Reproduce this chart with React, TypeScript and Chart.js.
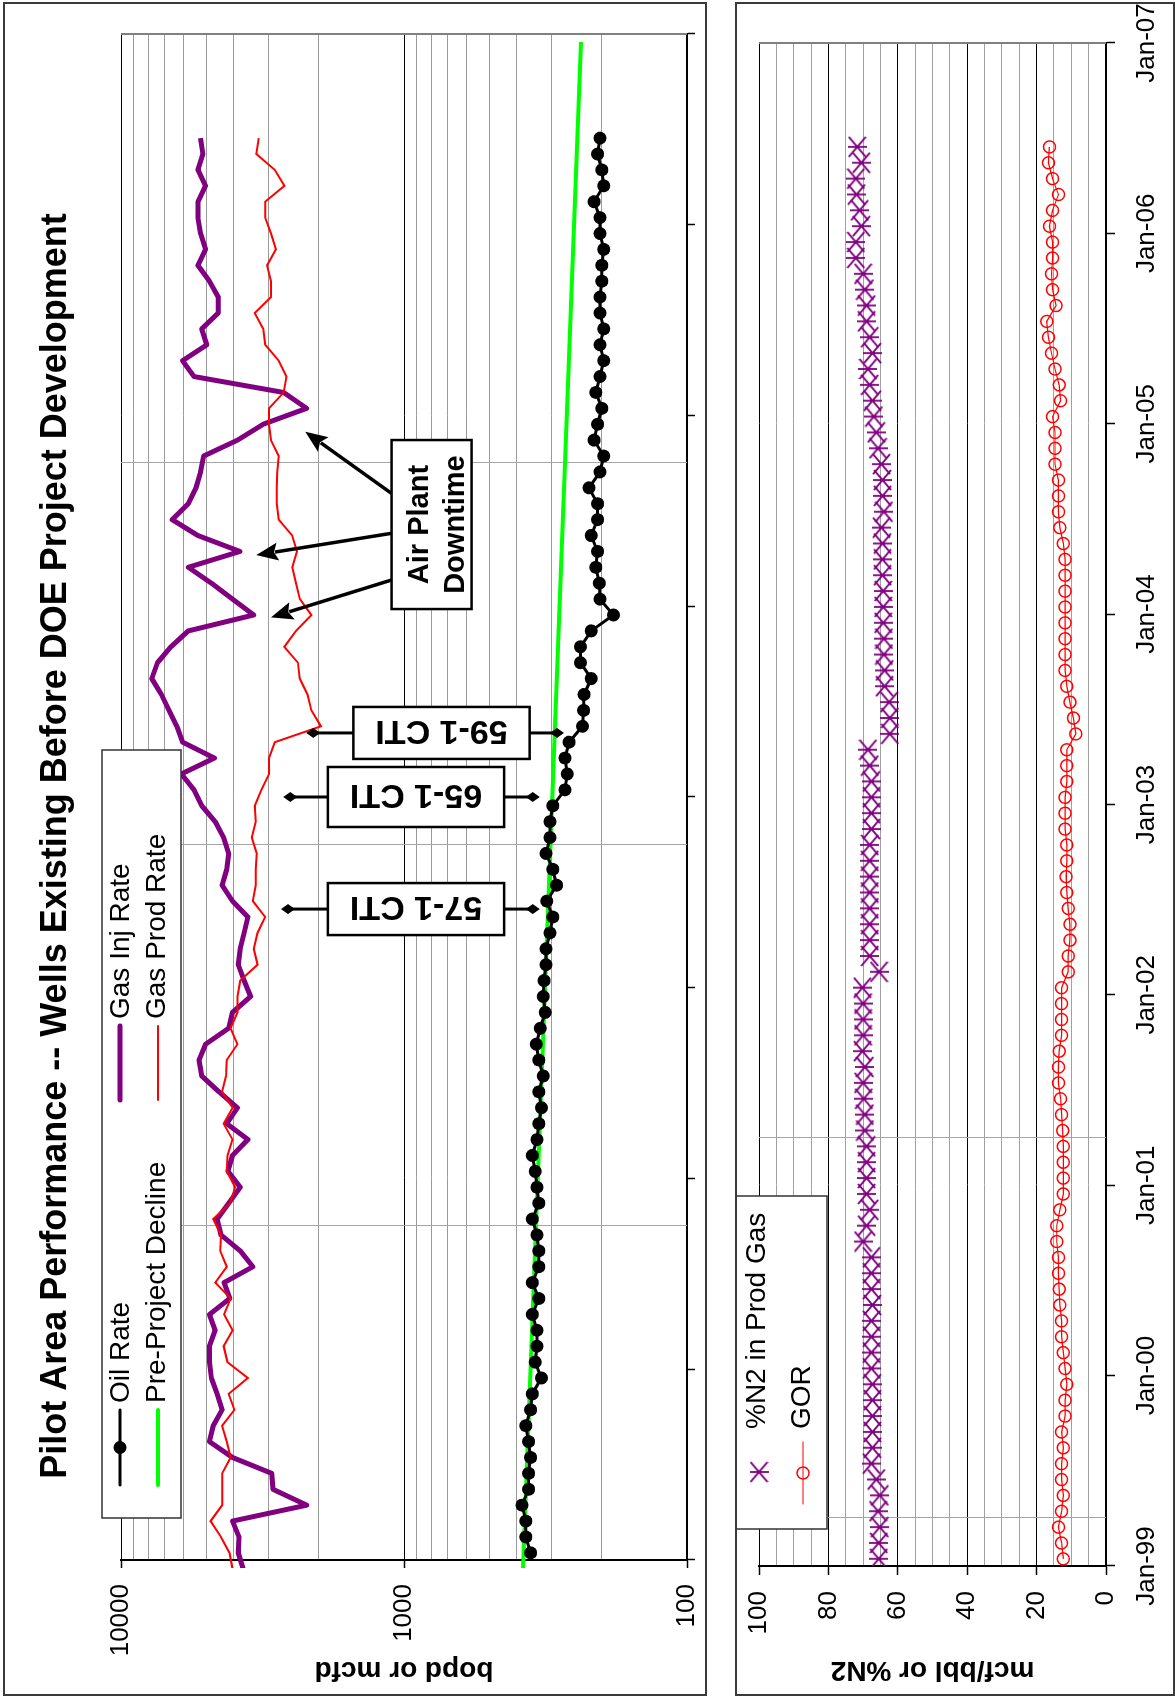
import React, { useEffect, useRef } from 'react';
import { Chart, registerables } from 'chart.js';

Chart.register(...registerables);

const FONT_FAMILY = '"Liberation Sans", Arial, Helvetica, sans-serif';
Chart.defaults.font.family = FONT_FAMILY;
Chart.defaults.color = '#000';

const PURPLE = '#800080';
const RED = '#ff0000';
const GREEN = '#00ff00';
const BLACK = '#000000';

// Time axis is measured in months after Jan-99, one labelled tick per year.
const yearTickLabels = ['Jan-99', 'Jan-00', 'Jan-01', 'Jan-02', 'Jan-03', 'Jan-04', 'Jan-05', 'Jan-06', 'Jan-07'];
const monthsPerYear = 12;
const firstReadingMonth = 0.45; // monthly readings, Jan-99 .. Jun-06
const firstGasMonth = -0.55; // gas rates start with the Dec-98 reading

// Upper panel: rates (bopd / mcfd)
const oilRate = [
  357, 371, 371, 383, 363, 363, 357, 363, 371, 357,
  352, 327, 344, 339, 339, 352, 334, 352, 334, 334,
  339, 352, 334, 339, 344, 352, 339, 334, 327, 334,
  322, 334, 341, 330, 317, 322, 320, 315, 315, 305,
  298, 313, 289, 298, 315, 305, 305, 298, 270, 265,
  270, 261, 234, 232, 231, 218, 238, 238, 218, 182,
  203, 204, 210, 207, 218, 207, 207, 222, 203, 197,
  213, 207, 200, 210, 203, 197, 203, 197, 203, 203,
  200, 200, 197, 203, 203, 213, 197, 200, 207, 203,
];

const gasInjRate = [
  3700, 3852, 3828, 4036, 2207, 2906, 2934, 4036, 4870, 4719,
  4392, 4574, 4793, 4870, 4870, 4646, 4870, 4125, 4324, 3420,
  3792, 4433, 4574, 4164, 3792, 4190, 4036, 3561, 4230, 3876,
  4504, 5185, 5300, 5025, 4164, 4036, 3484, 3674, 3852, 3792,
  3674, 3561, 4036, 4392, 4230, 4164, 4338, 4646, 5185, 5519,
  6117, 4675, 6060, 6352, 6762, 7200, 7786, 7430, 6660, 5783,
  3397, 4036, 4793, 5783, 3800, 5350, 6596, 5783, 5433, 5234,
  5105, 3876, 3144, 2207, 2662, 5519, 6060, 4977, 5185, 4531,
  4531, 4870, 5350, 5025, 5234, 5350, 5350, 5025, 5350, 5137,
  5234,
];

const gasProdRate = [
  4036, 4138, 4433, 4825, 4392, 4392, 4392, 4099, 4230, 4392,
  3974, 4164, 3561, 4204, 4337, 4036, 4324, 4099, 4646, 4230,
  4462, 4433, 4719, 4125, 3949, 4230, 4204, 4036, 4337, 4036,
  4392, 4256, 4230, 3876, 4099, 3876, 3876, 3792, 3293, 3397,
  3293, 3094, 3420, 3344, 3344, 3313, 3451, 3344, 3369, 3192,
  2998, 2998, 2860, 1965, 2125, 2193, 2334, 2371, 2647, 2409,
  2125, 2334, 2409, 2484, 2390, 2484, 2773, 2818, 2818, 2802,
  2773, 2952, 2998, 2998, 2662, 2604, 2773, 3094, 3144, 3369,
  2952, 2952, 3046, 2834, 2952, 3094, 3094, 2647, 2860, 3324,
  3262,
];

// Exponential pre-project decline (straight on the log axis)
const declineMonths = [-0.6, 95.5];
const declineRate = [380, 237];

// Lower panel: %N2 and GOR
const n2Percent = [
  65.5, 65.5, 65.2, 65.7, 65.2, 66.2, 67.6, 67.3, 67.3, 67.3,
  67.3, 67.3, 67.6, 67.6, 67.6, 67.6, 67.3, 67.6, 67.6, 67.6,
  70.0, 69.0, 68.1, 69.0, 69.0, 69.0, 69.0, 69.5, 69.5, 69.8,
  70.0, 69.5, 70.2, 70.0, 70.0, 70.0, 70.2, 65.4, 68.1, 68.1,
  68.1, 68.1, 68.1, 68.1, 68.1, 68.1, 67.6, 67.6, 67.6, 67.6,
  68.1, 68.6, 62.3, 62.3, 62.5, 63.8, 63.8, 64.0, 64.0, 64.2,
  64.2, 64.2, 64.4, 64.4, 64.4, 64.7, 64.0, 64.4, 64.4, 64.7,
  65.7, 66.2, 66.9, 67.3, 68.1, 68.6, 67.3, 68.1, 69.0, 69.0,
  69.5, 70.0, 72.1, 72.1, 70.5, 71.0, 71.9, 72.1, 70.5, 71.7,
];

const gor = [
  12.3, 12.8, 13.7, 12.8, 12.3, 12.8, 12.8, 12.3, 12.8, 11.8,
  11.8, 11.3, 11.8, 12.3, 12.8, 12.8, 13.3, 13.5, 13.7, 13.7,
  14.2, 14.2, 13.3, 12.3, 12.3, 12.3, 12.3, 12.5, 12.8, 13.1,
  13.7, 13.7, 13.5, 12.8, 12.8, 12.8, 12.8, 10.9, 10.9, 10.4,
  10.4, 10.9, 11.3, 11.5, 11.3, 11.3, 11.8, 11.8, 11.8, 11.3,
  11.3, 11.3, 8.7, 9.4, 10.4, 11.3, 11.8, 11.8, 11.8, 11.8,
  11.8, 11.8, 11.8, 11.8, 12.3, 13.3, 13.7, 13.7, 13.7, 14.7,
  14.7, 14.7, 15.4, 13.1, 13.5, 14.7, 15.7, 16.6, 17.1, 14.4,
  15.4, 15.7, 15.4, 15.4, 16.3, 15.4, 13.7, 15.4, 16.6, 16.3,
];

// Axis ticks
const logGridValues = [100, 200, 300, 400, 500, 600, 700, 800, 900, 1000, 2000, 3000, 4000, 5000, 6000, 7000, 8000, 9000, 10000];
const logLabelledTicks = [100, 1000, 10000];
const pctGridValues = [0, 5, 10, 15, 20, 25, 30, 35, 40, 45, 50, 55, 60, 65, 70, 75, 80, 85, 90, 95, 100];
const pctLabelledTicks = [0, 20, 40, 60, 80, 100];

// Light vertical reference lines across each plot (months after Jan-99)
const upperGuideMonths = [21, 45, 69];
const lowerGuideMonths = [3, 27];

const chartTitle = 'Pilot Area Performance -- Wells Existing Before DOE Project Development';

// Well conversion events: bracket from `low` to `high` with a labelled box at `boxValue`
const ctiEvents = [
  { label: '57-1 CTI', month: 40.95, low: 351, high: 2568, boxValue: 907, depth: 52 },
  { label: '65-1 CTI', month: 48.0, low: 351, high: 2523, boxValue: 907, depth: 60 },
  { label: '59-1 CTI', month: 52.03, low: 288, high: 2091, boxValue: 737, depth: 52 },
];

const downtimeNote = {
  lines: ['Air Plant', 'Downtime'],
  month: 65.14,
  value: 799,
  width: 169,
  height: 80,
  arrows: [
    { fromMonth: 67.1, toMonth: 70.98, toValue: 2232 },
    { fromMonth: 64.59, toMonth: 63.22, toValue: 3329 },
    { fromMonth: 61.65, toMonth: 59.3, toValue: 2951 },
  ],
};

const toPoints = (values: number[], start: number) => values.map((y, i) => ({ x: start + i, y }));

function strokeLine(ctx: CanvasRenderingContext2D, x0: number, y0: number, x1: number, y1: number) {
  ctx.beginPath();
  ctx.moveTo(x0, y0);
  ctx.lineTo(x1, y1);
  ctx.stroke();
}

function makeStarMarker(color: string) {
  const c = document.createElement('canvas');
  c.width = 22;
  c.height = 19;
  const g = c.getContext('2d')!;
  g.strokeStyle = color;
  g.lineWidth = 1.8;
  g.beginPath();
  g.moveTo(1, 1);
  g.lineTo(21, 18);
  g.moveTo(21, 1);
  g.lineTo(1, 18);
  g.moveTo(11, 0);
  g.lineTo(11, 19);
  g.stroke();
  return c;
}

function drawGuides(chart: any, months: number[]) {
  const { ctx, chartArea: a, scales } = chart;
  ctx.save();
  ctx.strokeStyle = '#a6a6a6';
  ctx.lineWidth = 1;
  months.forEach((m) => {
    const px = Math.round(scales.x.getPixelForValue(m)) + 0.5;
    strokeLine(ctx, px, a.top, px, a.bottom);
  });
  ctx.strokeStyle = '#808080';
  ctx.lineWidth = 2;
  strokeLine(ctx, a.right, a.top, a.right, a.bottom);
  ctx.restore();
}

function drawPanelFrame(chart: any) {
  const { ctx, width, height } = chart;
  ctx.save();
  ctx.strokeStyle = '#3a3a3a';
  ctx.lineWidth = 2;
  ctx.strokeRect(1, 1, width - 2, height - 2);
  ctx.restore();
}

type LegendSlot = { label: string; lineFrom: number; lineTo: number; y: number; textX: number; baseline: number };

function drawLegend(chart: any, box: { x: number; y: number; w: number; h: number }, slots: LegendSlot[]) {
  const { ctx } = chart;
  ctx.save();
  ctx.fillStyle = '#fff';
  ctx.fillRect(box.x, box.y, box.w, box.h);
  ctx.strokeStyle = '#333';
  ctx.lineWidth = 1.5;
  ctx.strokeRect(box.x, box.y, box.w, box.h);
  ctx.font = `28px ${FONT_FAMILY}`;
  ctx.textAlign = 'left';
  ctx.textBaseline = 'alphabetic';
  slots.forEach((s) => {
    const ds = chart.data.datasets.find((d: any) => d.label === s.label);
    if (!ds) return;
    const mid = (s.lineFrom + s.lineTo) / 2;
    if (ds.showLine !== false) {
      ctx.strokeStyle = ds.borderColor;
      ctx.lineWidth = ds.borderWidth;
      ctx.lineCap = 'round';
      strokeLine(ctx, s.lineFrom, s.y, s.lineTo, s.y);
      ctx.lineCap = 'butt';
    }
    const style = ds.pointStyle;
    if (style && typeof style === 'object') {
      ctx.drawImage(style, mid - style.width / 2, s.y - style.height / 2);
    } else if (ds.pointRadius > 0) {
      ctx.beginPath();
      ctx.arc(mid, s.y, ds.pointRadius, 0, Math.PI * 2);
      if (ds.pointBackgroundColor && ds.pointBackgroundColor !== 'rgba(0,0,0,0)') {
        ctx.fillStyle = ds.pointBackgroundColor;
        ctx.fill();
      }
      if (ds.pointBorderWidth > 0) {
        ctx.strokeStyle = ds.pointBorderColor;
        ctx.lineWidth = ds.pointBorderWidth;
        ctx.stroke();
      }
    }
    ctx.fillStyle = '#000';
    ctx.fillText(ds.label, s.textX, s.baseline);
  });
  ctx.restore();
}

function drawDiamond(ctx: CanvasRenderingContext2D, x: number, y: number, hx: number, hy: number) {
  ctx.beginPath();
  ctx.moveTo(x, y - hy);
  ctx.lineTo(x + hx, y);
  ctx.lineTo(x, y + hy);
  ctx.lineTo(x - hx, y);
  ctx.closePath();
  ctx.fill();
}

function drawArrow(ctx: CanvasRenderingContext2D, sx: number, sy: number, tx: number, ty: number) {
  const ang = Math.atan2(ty - sy, tx - sx);
  const head = 22;
  const half = 9;
  const bx = tx - head * Math.cos(ang);
  const by = ty - head * Math.sin(ang);
  ctx.lineWidth = 3.5;
  strokeLine(ctx, sx, sy, bx + 3 * Math.cos(ang), by + 3 * Math.sin(ang));
  ctx.beginPath();
  ctx.moveTo(tx, ty);
  ctx.lineTo(bx + half * Math.sin(ang), by - half * Math.cos(ang));
  ctx.lineTo(bx + 4 * Math.cos(ang), by + 4 * Math.sin(ang));
  ctx.lineTo(bx - half * Math.sin(ang), by + half * Math.cos(ang));
  ctx.closePath();
  ctx.fill();
}

function drawAnnotations(chart: any) {
  const { ctx, scales } = chart;
  const x = scales.x;
  const y = scales.y;
  ctx.save();
  ctx.strokeStyle = BLACK;
  ctx.fillStyle = BLACK;

  ctiEvents.forEach((ev) => {
    const px = x.getPixelForValue(ev.month);
    const yTop = y.getPixelForValue(ev.high);
    const yBot = y.getPixelForValue(ev.low);
    const yc = y.getPixelForValue(ev.boxValue);
    ctx.lineWidth = 3;
    ctx.fillStyle = BLACK;
    strokeLine(ctx, px, yTop, px, yBot);
    drawDiamond(ctx, px, yTop, 5, 7);
    drawDiamond(ctx, px, yBot, 5, 7);
    ctx.font = `bold 34px ${FONT_FAMILY}`;
    const len = ctx.measureText(ev.label).width + 44;
    ctx.fillStyle = '#fff';
    ctx.fillRect(px - ev.depth / 2, yc - len / 2, ev.depth, len);
    ctx.lineWidth = 2.5;
    ctx.strokeRect(px - ev.depth / 2, yc - len / 2, ev.depth, len);
    ctx.save();
    ctx.translate(px, yc);
    ctx.rotate(-Math.PI / 2);
    ctx.fillStyle = BLACK;
    ctx.textAlign = 'center';
    ctx.textBaseline = 'alphabetic';
    ctx.fillText(ev.label, 0, 12);
    ctx.restore();
  });

  const n = downtimeNote;
  const cx = x.getPixelForValue(n.month);
  const cy = y.getPixelForValue(n.value);
  const top = cy - n.height / 2;
  ctx.fillStyle = BLACK;
  n.arrows.forEach((a) => {
    drawArrow(ctx, x.getPixelForValue(a.fromMonth), top, x.getPixelForValue(a.toMonth), y.getPixelForValue(a.toValue));
  });
  ctx.fillStyle = '#fff';
  ctx.fillRect(cx - n.width / 2, top, n.width, n.height);
  ctx.lineWidth = 2.5;
  ctx.strokeRect(cx - n.width / 2, top, n.width, n.height);
  ctx.fillStyle = BLACK;
  ctx.font = `bold 29px ${FONT_FAMILY}`;
  ctx.textAlign = 'center';
  ctx.textBaseline = 'alphabetic';
  ctx.fillText(n.lines[0], cx, cy - 4);
  ctx.fillText(n.lines[1], cx, cy + 32);
  ctx.restore();
}

const upperDecor = {
  id: 'upperDecor',
  beforeDatasetsDraw(chart: any) {
    drawGuides(chart, upperGuideMonths);
  },
  afterDatasetsDraw(chart: any) {
    drawAnnotations(chart);
  },
  afterDraw(chart: any) {
    drawLegend(chart, { x: 178, y: 99, w: 768, h: 79 }, [
      { label: 'Oil Rate', lineFrom: 211, lineTo: 286, y: 117, textX: 293, baseline: 126 },
      { label: 'Pre-Project Decline', lineFrom: 211, lineTo: 286, y: 155, textX: 293, baseline: 162 },
      { label: 'Gas Inj Rate', lineFrom: 596, lineTo: 670, y: 117, textX: 677, baseline: 126 },
      { label: 'Gas Prod Rate', lineFrom: 596, lineTo: 670, y: 155, textX: 677, baseline: 162 },
    ]);
    const { ctx } = chart;
    ctx.save();
    ctx.fillStyle = BLACK;
    ctx.font = `bold 36px ${FONT_FAMILY}`;
    ctx.textAlign = 'center';
    ctx.textBaseline = 'alphabetic';
    ctx.fillText(chartTitle, 850, 63);
    ctx.restore();
    drawPanelFrame(chart);
  },
};

const lowerDecor = {
  id: 'lowerDecor',
  beforeDatasetsDraw(chart: any) {
    drawGuides(chart, lowerGuideMonths);
  },
  afterDraw(chart: any) {
    drawLegend(chart, { x: 167, y: 1, w: 333, h: 91 }, [
      { label: '%N2 in Prod Gas', lineFrom: 192, lineTo: 256, y: 24, textX: 267, baseline: 30 },
      { label: 'GOR', lineFrom: 192, lineTo: 254, y: 68, textX: 267, baseline: 75 },
    ]);
    drawPanelFrame(chart);
  },
};

const yearTicks = (scale: any) => {
  scale.ticks = yearTickLabels.map((_, i) => ({ value: i * monthsPerYear }));
};

// Fixed axis band sizes; edge labels may overhang without shrinking the plot
const fixedHeight = (h: number) => (s: any) => {
  s.height = h;
  s.paddingLeft = 0;
  s.paddingRight = 0;
};
const fixedWidth = (w: number) => (s: any) => {
  s.width = w;
  s.paddingTop = 0;
  s.paddingBottom = 0;
};

const gasClip = { left: 8, top: 0, right: 0, bottom: 0 };

function upperConfig(): any {
  return {
    type: 'line',
    data: {
      datasets: [
        {
          label: 'Oil Rate',
          data: toPoints(oilRate, firstReadingMonth),
          borderColor: BLACK,
          backgroundColor: BLACK,
          borderWidth: 3,
          pointRadius: 6.5,
          pointBackgroundColor: BLACK,
          pointBorderColor: BLACK,
          pointBorderWidth: 0,
        },
        {
          label: 'Gas Prod Rate',
          data: toPoints(gasProdRate, firstGasMonth),
          borderColor: RED,
          borderWidth: 2,
          pointRadius: 0,
          clip: gasClip,
        },
        {
          label: 'Gas Inj Rate',
          data: toPoints(gasInjRate, firstGasMonth),
          borderColor: PURPLE,
          borderWidth: 5,
          borderJoinStyle: 'round',
          pointRadius: 0,
          clip: gasClip,
        },
        {
          label: 'Pre-Project Decline',
          data: declineMonths.map((m, i) => ({ x: m, y: declineRate[i] })),
          borderColor: GREEN,
          borderWidth: 4,
          pointRadius: 0,
          clip: gasClip,
        },
      ],
    },
    options: {
      animation: false,
      responsive: false,
      events: [],
      layout: { padding: { left: 0, right: 32, top: 118, bottom: 8 } },
      plugins: { legend: { display: false }, tooltip: { enabled: false }, title: { display: false } },
      scales: {
        x: {
          type: 'linear',
          min: 0,
          max: 96,
          afterBuildTicks: yearTicks,
          afterFit: fixedHeight(12),
          ticks: { callback: () => '', autoSkip: false, maxRotation: 0 },
          grid: { drawOnChartArea: false, drawTicks: true, tickLength: 8, tickColor: BLACK, tickWidth: 1.5 },
          border: { display: true, color: BLACK, width: 2 },
        },
        y: {
          type: 'logarithmic',
          min: 100,
          max: 10000,
          afterBuildTicks: (s: any) => {
            s.ticks = logGridValues.map((v) => ({ value: v }));
          },
          afterFit: fixedWidth(136),
          ticks: {
            callback: (v: number) => (logLabelledTicks.includes(v) ? String(v) : ''),
            autoSkip: false,
            padding: 16,
            color: BLACK,
            font: { size: 26 },
          },
          grid: {
            color: (c: any) => (logLabelledTicks.includes(c.tick && c.tick.value) ? BLACK : '#9a9a9a'),
            lineWidth: 1,
            drawTicks: true,
            tickLength: 8,
            tickWidth: 1.5,
            tickColor: (c: any) => (logLabelledTicks.includes(c.tick && c.tick.value) ? BLACK : 'rgba(0,0,0,0)'),
          },
          border: { display: true, color: BLACK, width: 2 },
          title: {
            display: true,
            text: 'bopd or mcfd',
            color: BLACK,
            font: { size: 28, weight: 'bold' },
            padding: { top: 9, bottom: 0 },
          },
        },
      },
    },
    plugins: [upperDecor],
  };
}

function lowerConfig(star: HTMLCanvasElement): any {
  return {
    type: 'line',
    data: {
      datasets: [
        {
          label: '%N2 in Prod Gas',
          data: toPoints(n2Percent, firstReadingMonth),
          showLine: false,
          borderColor: PURPLE,
          pointStyle: star,
          pointRadius: 10,
        },
        {
          label: 'GOR',
          data: toPoints(gor, firstReadingMonth),
          borderColor: RED,
          borderWidth: 1.2,
          pointStyle: 'circle',
          pointRadius: 6,
          pointBorderColor: RED,
          pointBorderWidth: 1.5,
          pointBackgroundColor: 'rgba(0,0,0,0)',
        },
      ],
    },
    options: {
      animation: false,
      responsive: false,
      events: [],
      layout: { padding: { left: 0, right: 41, top: 24, bottom: 9 } },
      plugins: { legend: { display: false }, tooltip: { enabled: false }, title: { display: false } },
      scales: {
        x: {
          type: 'linear',
          min: 0,
          max: 96,
          afterBuildTicks: yearTicks,
          afterFit: fixedHeight(60),
          ticks: {
            callback: (v: number) => yearTickLabels[Math.round(v / monthsPerYear)],
            autoSkip: false,
            maxRotation: 0,
            padding: 16,
            color: BLACK,
            font: { size: 26 },
          },
          grid: { drawOnChartArea: false, drawTicks: true, tickLength: 9, tickColor: BLACK, tickWidth: 1.5 },
          border: { display: true, color: BLACK, width: 2 },
        },
        y: {
          type: 'linear',
          min: 0,
          max: 100,
          afterBuildTicks: (s: any) => {
            s.ticks = pctGridValues.map((v) => ({ value: v }));
          },
          afterFit: fixedWidth(130),
          ticks: {
            callback: (v: number) => (pctLabelledTicks.includes(v) ? String(v) : ''),
            autoSkip: false,
            padding: 16,
            color: BLACK,
            font: { size: 26 },
          },
          grid: {
            color: (c: any) => (pctLabelledTicks.includes(c.tick && c.tick.value) ? BLACK : '#a0a0a0'),
            lineWidth: 1,
            drawTicks: true,
            tickLength: 9,
            tickWidth: 1.5,
            tickColor: (c: any) => (pctLabelledTicks.includes(c.tick && c.tick.value) ? BLACK : 'rgba(0,0,0,0)'),
          },
          border: { display: true, color: BLACK, width: 2 },
          title: {
            display: true,
            text: 'mcf/bbl or %N2',
            color: BLACK,
            font: { size: 28, weight: 'bold' },
            padding: { top: 9, bottom: 0 },
          },
        },
      },
    },
    plugins: [lowerDecor],
  };
}

export default function App() {
  const upperRef = useRef<HTMLCanvasElement>(null);
  const lowerRef = useRef<HTMLCanvasElement>(null);

  useEffect(() => {
    const star = makeStarMarker(PURPLE);
    const upper = new Chart(upperRef.current as HTMLCanvasElement, upperConfig());
    const lower = new Chart(lowerRef.current as HTMLCanvasElement, lowerConfig(star));
    return () => {
      upper.destroy();
      lower.destroy();
    };
  }, []);

  // The report page is laid out landscape and turned a quarter turn to fit the portrait sheet.
  return (
    <div
      style={{
        position: 'absolute',
        left: 0,
        top: 0,
        width: 1700,
        height: 1175,
        background: '#fff',
        transformOrigin: '0 0',
        transform: 'translate(0px, 1700px) rotate(-90deg)',
      }}
    >
      <canvas
        ref={upperRef}
        width={1694}
        height={704}
        style={{ position: 'absolute', left: 4, top: 3, width: 1694, height: 704 }}
      />
      <canvas
        ref={lowerRef}
        width={1694}
        height={440}
        style={{ position: 'absolute', left: 4, top: 735, width: 1694, height: 440 }}
      />
    </div>
  );
}
